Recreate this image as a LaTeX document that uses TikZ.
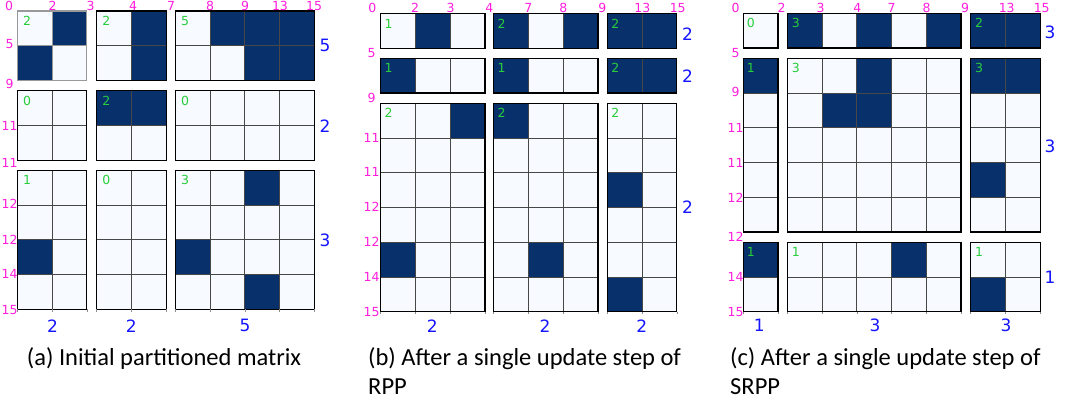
\documentclass[tikz,border=0pt]{standalone}
\usepackage{fontspec}
\setmainfont{Carlito}
\newfontfamily\lblfont{DejaVu Sans}
\definecolor{cellbg}{HTML}{F7FBFF}
\definecolor{celldk}{HTML}{08306B}
\definecolor{magl}{RGB}{255,30,220}
\definecolor{grn}{RGB}{40,205,60}
\definecolor{bll}{RGB}{20,20,255}
\newcommand{\cellsz}{34.75}
\tikzset{
  gridln/.style={black!72,line width=0.9pt},
  blkborder/.style={black,line width=1.3pt},
  softln/.style={black!40,line width=1.3pt},
  tickln/.style={black!45,line width=0.6pt},
  mag/.style={text=magl,font=\lblfont\fontsize{12.5}{14}\selectfont,inner sep=0pt},
  bluel/.style={text=bll,font=\lblfont\fontsize{17}{19}\selectfont,inner sep=0pt},
  grnum/.style={text=grn,font=\lblfont\fontsize{12.5}{14}\selectfont,inner sep=0pt},
  capt/.style={font=\fontsize{24.5}{28}\selectfont,inner sep=0pt,anchor=base west}
}
% #1 x0, #2 y0, #3 ncols, #4 nrows, #5 dark cells (col/row), #6 green count, #7 green x offset, #8 name
\newcommand{\mblk}[8]{%
\begin{scope}[shift={(#1,#2)}]
\fill[cellbg] (0,0) rectangle ({#3*\cellsz},{#4*\cellsz});
\foreach \c/\r in {#5}{\ifnum\c>0 \fill[celldk] ({(\c-1)*\cellsz},{(\r-1)*\cellsz}) rectangle ++(\cellsz,\cellsz);\fi}
\ifnum#3>1 \foreach \i in {2,...,#3}{\draw[gridln] ({(\i-1)*\cellsz},0) -- ++(0,{#4*\cellsz});}\fi
\ifnum#4>1 \foreach \i in {2,...,#4}{\draw[gridln] (0,{(\i-1)*\cellsz}) -- ++({#3*\cellsz},0);}\fi
\draw[blkborder] (0,0) rectangle ({#3*\cellsz},{#4*\cellsz});
\node[grnum] (#8) at (#7,9.8) {#6};
\end{scope}}
\newcommand{\bticks}[3]{\foreach \i in {0,...,#3}{\draw[tickln] ({#1+\i*\cellsz},#2) -- ++(0,2.5);}}
\begin{document}
\begin{tikzpicture}[x=1pt,y=-1pt]
\useasboundingbox (0,0) rectangle (1077,407);
% ---------------- panel (a)
\mblk{17.3}{11}{2}{2}{2/1,1/2}{2}{9.7}{a11}
% the first block is drawn with soft grey edges
\draw[softln] (17.3,11) rectangle ++({2*\cellsz},{2*\cellsz});
\draw[black!40,line width=0.9pt] ({17.3+\cellsz},11) -- ++(0,{2*\cellsz}) (17.3,{11+\cellsz}) -- ++({2*\cellsz},0);
\mblk{96.7}{11}{2}{2}{2/1,2/2}{2}{9.7}{a12}
\mblk{175.3}{11}{4}{2}{2/1,3/1,4/1,3/2,4/2}{5}{9.7}{a13}
\mblk{17.3}{90.7}{2}{2}{0/0}{0}{9.7}{a21}
\mblk{96.7}{90.7}{2}{2}{1/1,2/1}{2}{9.7}{a22}
\mblk{175.3}{90.7}{4}{2}{0/0}{0}{9.7}{a23}
\mblk{17.3}{170.3}{2}{4}{1/3}{1}{9.7}{a31}
\mblk{96.7}{170.3}{2}{4}{0/0}{0}{9.7}{a32}
\mblk{175.3}{170.3}{4}{4}{3/1,1/3,3/4}{3}{9.7}{a33}
\bticks{17.3}{309.3}{2}\bticks{96.7}{309.3}{2}\bticks{175.3}{309.3}{4}
\foreach \t/\x [count=\k] in {0/9.2,2/52.7,3/90.7,4/133,7/171,8/210,9/245,13/280,15/314}
  {\node[mag] (at\k) at (\x,6) {\t};}
\foreach \t/\y [count=\k] in {5/44.5,9/84,11/126,11/163.3,12/203.5,12/240,14/274.3,15/310}
  {\node[mag] (al\k) at (9.6,\y) {\t};}
\foreach \t/\y [count=\k] in {5/45.5,2/126,3/240}
  {\node[bluel] (ar\k) at (325,\y) {\t};}
\foreach \t/\x [count=\k] in {2/52.5,2/131.3,5/245}
  {\node[bluel] (ab\k) at (\x,325.7) {\t};}
\node[capt] (capa) at (26.7,365) {(a) Initial partitioned matrix};
% ---------------- panel (b)
\mblk{380.7}{13.7}{3}{1}{2/1}{1}{8}{b11}
\mblk{493.7}{13.7}{3}{1}{1/1,3/1}{2}{8}{b12}
\mblk{607.3}{13.7}{2}{1}{1/1,2/1}{2}{8}{b13}
\mblk{380.7}{58.3}{3}{1}{1/1}{1}{8}{b21}
\mblk{493.7}{58.3}{3}{1}{1/1}{1}{8}{b22}
\mblk{607.3}{58.3}{2}{1}{1/1,2/1}{2}{8}{b23}
\mblk{380.7}{103.3}{3}{6}{3/1,1/5}{2}{8}{b31}
\mblk{493.7}{103.3}{3}{6}{1/1,2/5}{2}{8}{b32}
\mblk{607.3}{103.3}{2}{6}{1/3,1/6}{2}{8}{b33}
\bticks{380.7}{311.8}{3}\bticks{493.7}{311.8}{3}\bticks{607.3}{311.8}{2}
\foreach \t/\x [count=\k] in {0/372.3,2/415,3/450.7,4/489.3,7/528.3,8/563.3,9/602.3,13/642.3,15/677.7}
  {\node[mag] (bt\k) at (\x,8.3) {\t};}
\foreach \t/\y [count=\k] in {5/53.3,9/97.7,11/137.7,11/172.3,12/207.3,12/241.7,14/276.7,15/311.7}
  {\node[mag] (bl\k) at (371.5,\y) {\t};}
\foreach \t/\y [count=\k] in {2/34,2/76,2/207.5}
  {\node[bluel] (br\k) at (687.5,\y) {\t};}
\foreach \t/\x [count=\k] in {2/432.3,2/545,2/641.7}
  {\node[bluel] (bb\k) at (\x,325.7) {\t};}
\node[capt] (capb) at (368,365) {(b) After a single update step of};
\node[capt] (capb2) at (368,394) {RPP};
% ---------------- panel (c)
\mblk{743.3}{13.3}{1}{1}{0/0}{0}{7.5}{c11}
\mblk{787.3}{13.3}{5}{1}{1/1,3/1,5/1}{3}{8.5}{c12}
\mblk{970.7}{13.3}{2}{1}{1/1,2/1}{2}{8.5}{c13}
\mblk{743.3}{58.3}{1}{5}{1/1}{1}{7.5}{c21}
\mblk{787.3}{58.3}{5}{5}{3/1,2/2,3/2}{3}{8.5}{c22}
\mblk{970.7}{58.3}{2}{5}{1/1,2/1,1/4}{3}{8.5}{c23}
\mblk{743.3}{242.3}{1}{2}{1/1}{1}{7.5}{c31}
\mblk{787.3}{242.3}{5}{2}{4/1}{1}{8.5}{c32}
\mblk{970.7}{242.3}{2}{2}{1/2}{1}{8.5}{c33}
\bticks{743.3}{311.8}{1}\bticks{787.3}{311.8}{5}\bticks{970.7}{311.8}{2}
\foreach \t/\x [count=\k] in {0/735.7,2/781.7,3/820.7,4/857.3,7/891.7,8/926.7,9/965,13/1006.7,15/1041.7}
  {\node[mag] (ct\k) at (\x,8.3) {\t};}
\foreach \t/\y [count=\k] in {5/52.7,9/91.7,11/127.7,11/163.3,12/198.3,12/237.3,14/277.3,15/312.3}
  {\node[mag] (cl\k) at (735.5,\y) {\t};}
\foreach \t/\y [count=\k] in {3/32.5,3/146.5,1/277}
  {\node[bluel] (cr\k) at (1050,\y) {\t};}
\foreach \t/\x [count=\k] in {1/759.3,3/875,3/1006}
  {\node[bluel] (cb\k) at (\x,325.3) {\t};}
\node[capt] (capc) at (730,365) {(c) After a single update step of};
\node[capt] (capc2) at (730,394) {SRPP};
\end{tikzpicture}
\end{document}
